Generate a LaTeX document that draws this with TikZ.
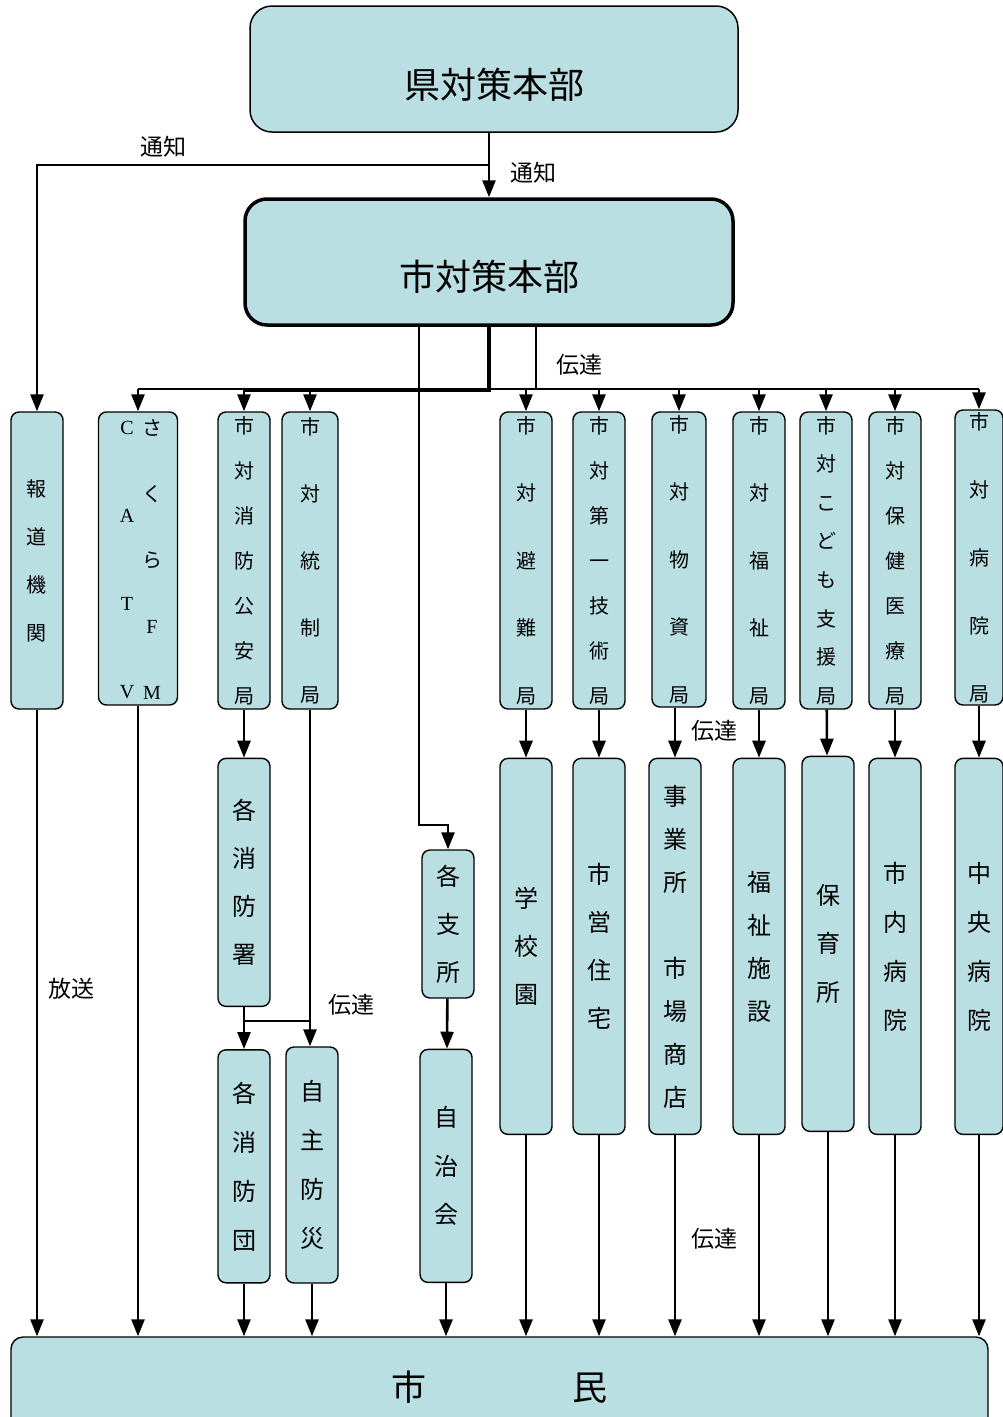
\documentclass[tikz,border=0pt]{standalone}
\usepackage{fontspec}
\newfontfamily\cjk{Noto Sans CJK JP}
\newfontfamily\latin{Liberation Serif}
\usetikzlibrary{positioning}
\usetikzlibrary{arrows.meta}
\definecolor{boxfill}{RGB}{185,223,227}

\begin{document}
\begin{tikzpicture}[x=1pt, y=-1pt,
    hq/.style = {draw, fill=boxfill, rounded corners=22pt, line width=1.5pt, minimum width=488pt, minimum height=126pt, font=\cjk\fontsize{36}{40}\selectfont},
    pillar/.style = {draw, fill=boxfill, rounded corners=8pt, line width=1.4pt, minimum width=52pt, inner sep=0pt, align=center},
    lead/.style 2 args = {font=\cjk\fontsize{#1}{#2}\selectfont},
    lbl/.style = {font=\cjk\fontsize{23}{26}\selectfont, inner sep=0pt},
    link/.style = {line width=2.6pt, -{Triangle[width=13pt,length=17pt]}},
    wire/.style = {line width=2.6pt}]
    \useasboundingbox (0,0) rectangle (1003,1417);

    % head offices
    \node[hq] (ken) at (494,69) {\raisebox{-29.5pt}[0pt][0pt]{県対策本部}};
    \node[hq, line width=3.5pt] (shi) at (489,262) {\raisebox{-28.5pt}[0pt][0pt]{市対策本部}};

    % bureaus
    \node[pillar, minimum height=297pt, lead={20}{48}] (hodo) at (37,560.5) {報\\道\\機\\関};
    \node[pillar, minimum width=79pt, minimum height=293pt] (catv) at (138,558.5) {};
    \node[font=\latin\fontsize{20}{88}\selectfont, align=center, inner sep=0pt] (catvL) at (127,560) {C\\A\\T\\V};
    \node[font=\latin\fontsize{20}{66}\selectfont, align=center, inner sep=0pt] (catvR) at (152,560) {{\cjk さ}\\{\cjk く}\\{\cjk ら}\\F\\M};
    \node[pillar, minimum height=297pt, lead={20}{45}] (shobo) at (244,560.5) {市\\対\\消\\防\\公\\安\\局};
    \node[pillar, minimum width=56pt, minimum height=297pt, lead={20}{67}] (tosei) at (310,560.5) {市\\対\\統\\制\\局};
    \node[pillar, minimum height=297pt, lead={20}{67.5}] (hinan) at (526,560.5) {市\\対\\避\\難\\局};
    \node[pillar, minimum height=297pt, lead={20}{45}] (gijutsu) at (599,560.5) {市\\対\\第\\一\\技\\術\\局};
    \node[pillar, minimum width=54pt, minimum height=295pt, lead={20}{67.5}] (busshi) at (679,559.5) {市\\対\\物\\資\\局};
    \node[pillar, minimum height=297pt, lead={20}{67.5}] (fukushi) at (759,560.5) {市\\対\\福\\祉\\局};
    \node[pillar, minimum height=297pt, lead={20}{38.6}] (kodomo) at (826,560.5) {市\\対\\こ\\ど\\も\\支\\援\\局};
    \node[pillar, minimum height=297pt, lead={20}{45}] (hoken) at (895,560.5) {市\\対\\保\\健\\医\\療\\局};
    \node[pillar, minimum width=48pt, minimum height=295pt, lead={20}{68}] (byoin) at (979,557.5) {市\\対\\病\\院\\局};

    % units
    \node[pillar, minimum height=248pt, lead={24}{48}, below=48pt of shobo] (shobosho) {各\\消\\防\\署};
    \node[pillar, minimum height=148pt, lead={24}{48}] (shisho) at (448,924) {各\\支\\所};
    \node[pillar, minimum height=376pt, lead={24}{48}, below=48pt of hinan] (gakko) {学\\校\\園};
    \node[pillar, minimum height=376pt, lead={24}{48}, below=48pt of gijutsu] (eijyu) {市\\営\\住\\宅};
    \node[pillar, minimum height=376pt, lead={24}{43}, below=50pt of busshi, xshift=-4pt] (jigyo) {事\\業\\所\\\mbox{}\\市\\場\\商\\店};
    \node[pillar, minimum height=376pt, lead={24}{43}, below=48pt of fukushi] (shisetsu) {福\\祉\\施\\設};
    \node[pillar, minimum height=375pt, lead={24}{48.5}, below=46pt of kodomo, xshift=2pt] (hoiku) {保\\育\\所};
    \node[pillar, minimum height=376pt, lead={24}{49}, below=48pt of hoken] (byoin2) {市\\内\\病\\院};
    \node[pillar, minimum width=48pt, minimum height=376pt, lead={24}{49}, below=52pt of byoin] (chuo) {中\\央\\病\\院};

    \node[pillar, minimum height=233pt, lead={24}{49}, below=42pt of shobosho] (shobodan) {各\\消\\防\\団};
    \node[pillar, minimum height=236pt, lead={24}{49}] (jishu) at (312,1165) {自\\主\\防\\災};
    \node[pillar, minimum height=233pt, lead={24}{48.5}, below=50pt of shisho, xshift=-2pt] (jichi) {自\\治\\会};

    \node[pillar, minimum width=977pt, minimum height=100pt, rounded corners=12pt, lead={35}{40}] (shimin) at (499.5,1387) {市\hspace{146pt}民};

    % connectors
    \coordinate (tsuchi) at (489,165);
    \coordinate (bus) at (0,389);
    \coordinate (fork) at (536,389);
    \coordinate (bend) at (419,825);
    \coordinate (jct) at (0,1021);

    \draw[link] (ken.south -| shi.north) -- (shi.north);
    \draw[link] (tsuchi) -| (hodo.north);
    \draw[line width=3.5pt] (shi.south) -- ([yshift=-3pt]shi.south |- bus);
    \draw[wire] (fork |- shi.south) -- (fork);
    \draw[wire] (catv.north |- bus) -- (byoin.north |- bus);
    \draw[line width=3.5pt] ([yshift=-1pt]shobo.north |- bus) -- ([yshift=-1pt]shi.south |- bus);
    \foreach \n in {catv,shobo,tosei,hinan,gijutsu,busshi,fukushi,kodomo,hoken,byoin}
        \draw[link] (\n.north |- bus) -- (\n.north);
    \draw[link] (bend |- shi.south) -- (bend) -| (shisho.north);

    \foreach \a/\b in {shobo/shobosho,hinan/gakko,gijutsu/eijyu,fukushi/shisetsu,kodomo/hoiku,hoken/byoin2,byoin/chuo,shobosho/shobodan,shisho/jichi}
        \draw[link] (\a) -- (\b);
    \draw[link] (busshi.south -| jigyo.north) -- (jigyo.north);
    \draw[link] (tosei.south) -- (tosei.south |- jishu.north);
    \draw[wire] (shobosho.south |- jct) -- (tosei.south |- jct);

    \foreach \n in {hodo,catv,shobodan,jishu,jichi,gakko,eijyu,jigyo,shisetsu,hoiku,byoin2,chuo}
        \draw[link] (\n.south) -- (\n.south |- shimin.north);

    % labels
    \node[lbl] (tsuchiA) at (163,147) {通知};
    \node[lbl] (tsuchiB) at (533,173) {通知};
    \node[lbl] (dentatsuA) at (579,365) {伝達};
    \node[lbl] (dentatsuB) at (714,731) {伝達};
    \node[lbl] (dentatsuC) at (351,1005) {伝達};
    \node[lbl] (hoso) at (71,989) {放送};
    \node[lbl] (dentatsuD) at (714,1239) {伝達};
\end{tikzpicture}
\end{document}
